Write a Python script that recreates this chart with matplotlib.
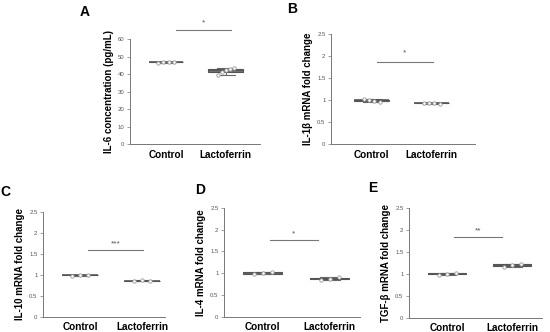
import matplotlib
matplotlib.use("Agg")
import numpy as np
from matplotlib import pyplot as plt

plt.rcParams["font.family"] = ["Liberation Sans", "DejaVu Sans"]

groups = ["Control", "Lactoferrin"]

il6_control = [46.6, 47.0, 47.0, 47.3]
il6_lacto = [39.5, 41.2, 42.2, 43.0, 43.5]
il1b_control = [1.02, 1.00, 0.99, 0.97]
il1b_lacto = [0.94, 0.94, 0.93, 0.92]
il10_control = [0.97, 1.00, 1.00]
il10_lacto = [0.84, 0.88, 0.84]
il4_control = [0.97, 1.00, 1.03]
il4_lacto = [0.84, 0.87, 0.90]
tgfb_control = [0.98, 1.00, 1.02]
tgfb_lacto = [1.16, 1.20, 1.23]

W, H = 550, 332


def addAxes(fig, x0, x1, ytop, ybot):
    return fig.add_axes([x0 / W, 1 - ybot / H, (x1 - x0) / W, (ybot - ytop) / H])


def drawPanel(ax, ctrl, lacto, ylabel, ylim, yticks, yticklabels, xlim,
              sig_y, star_y, stars, sig_x):
    bp = ax.boxplot([ctrl, lacto], positions=[1, 2], widths=0.58,
                    patch_artist=True, showfliers=False, whis=10,
                    medianprops=dict(color="#555555", linewidth=1.2),
                    whiskerprops=dict(color="#666666", linewidth=0.8),
                    capprops=dict(color="#666666", linewidth=0.8),
                    boxprops=dict(linewidth=0.8))
    for patch, fc in zip(bp["boxes"], ["#a8a8a8", "#6e7280"]):
        patch.set_facecolor(fc)
        patch.set_edgecolor("#555555")
    for i, vals in enumerate([ctrl, lacto]):
        n = len(vals)
        xs = 1 + i + np.linspace(-0.13, 0.13, n)
        ax.scatter(xs, vals, s=6, facecolor="white", edgecolor="#999999",
                   linewidth=0.6, zorder=5)
    ax.set_xlim(*xlim)
    ax.set_ylim(*ylim)
    ax.set_yticks(yticks)
    ax.set_yticklabels(yticklabels, fontsize=4.3, color="#555555")
    ax.set_xticks([1, 2])
    ax.set_xticklabels(groups, fontsize=7.2, fontweight="bold")
    ax.tick_params(axis="x", length=0, pad=4)
    ax.tick_params(axis="y", length=2, width=0.5, color="#777777", pad=2)
    for s in ["top", "right"]:
        ax.spines[s].set_visible(False)
    for s in ["left", "bottom"]:
        ax.spines[s].set_color("#777777")
        ax.spines[s].set_linewidth(0.7)
    ax.set_ylabel(ylabel, fontsize=7, fontweight="bold", labelpad=3)
    ax.plot(sig_x, [sig_y, sig_y], color="#777777", linewidth=0.8, clip_on=False)
    ax.text(np.mean(sig_x), star_y, stars, ha="center", va="center",
            fontsize=6, color="#555555", clip_on=False)


fig = plt.figure(figsize=(W / 100, H / 100), dpi=100)

mrna_ticks = [0, 0.5, 1, 1.5, 2, 2.5]
mrna_labels = ["0", "0.5", "1", "1.5", "2", "2.5"]

axA = addAxes(fig, 130, 260, 39.3, 144.3)
drawPanel(axA, il6_control, il6_lacto, "IL-6 concentration (pg/mL)",
          (0, 60), [0, 10, 20, 30, 40, 50, 60],
          ["0", "10", "20", "30", "40", "50", "60"], (0.4, 2.57),
          65.3, 69.5, "*", (1.17, 2.08))

axB = addAxes(fig, 331, 475, 34, 144.3)
drawPanel(axB, il1b_control, il1b_lacto, "IL-1\u03b2 mRNA fold change",
          (0, 2.5), mrna_ticks, mrna_labels, (0.32, 2.72),
          1.87, 2.08, "*", (1.08, 2.02))

axC = addAxes(fig, 43, 165, 211.7, 316.7)
drawPanel(axC, il10_control, il10_lacto, "IL-10 mRNA fold change",
          (0, 2.5), mrna_ticks, mrna_labels, (0.40, 2.37),
          1.6, 1.73, "***", (1.13, 2.02))

axD = addAxes(fig, 224, 360, 207.7, 316.7)
drawPanel(axD, il4_control, il4_lacto, "IL-4 mRNA fold change",
          (0, 2.5), mrna_ticks, mrna_labels, (0.42, 2.45),
          1.75, 1.89, "*", (1.1, 1.82))

axE = addAxes(fig, 409, 542, 207.7, 317.7)
drawPanel(axE, tgfb_control, tgfb_lacto, "TGF-\u03b2 mRNA fold change",
          (0, 2.5), mrna_ticks, mrna_labels, (0.415, 2.46),
          1.83, 1.97, "**", (1.1, 1.85))

for letter, x, y in [("A", 85, 12), ("B", 292, 9), ("C", 5, 192),
                     ("D", 200, 190), ("E", 373, 188)]:
    fig.text(x / W, 1 - y / H, letter, fontsize=10, fontweight="bold",
             ha="center", va="center")

fig.savefig("out.png", dpi=100, facecolor="white")
